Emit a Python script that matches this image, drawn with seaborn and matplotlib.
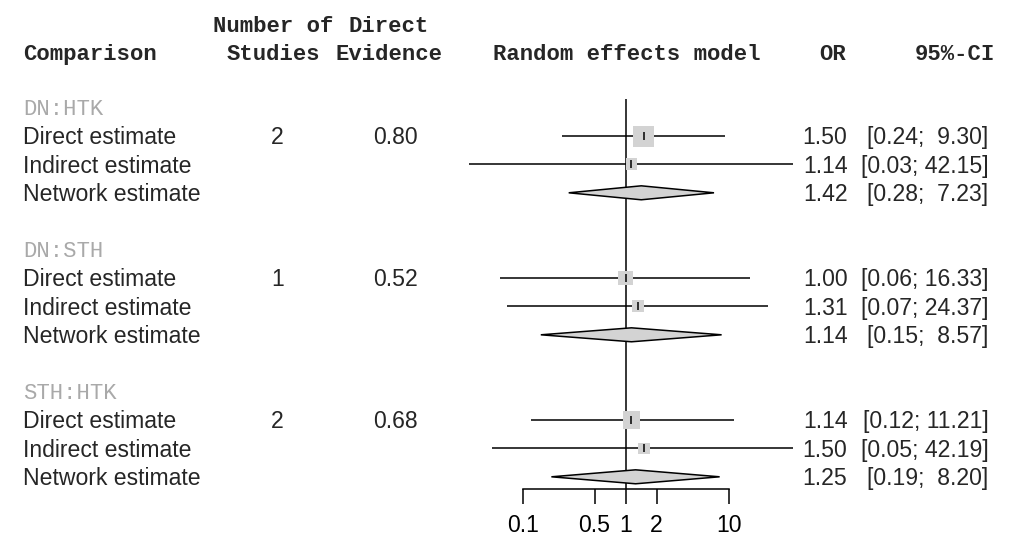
import numpy as np
import pandas as pd
import matplotlib
matplotlib.use("Agg")
import matplotlib.pyplot as plt
from matplotlib.patches import Polygon
import seaborn as sns

# ---------------- data ----------------
comparisons = ["DN:HTK", "DN:STH", "STH:HTK"]
estimate_labels = ["Direct estimate", "Indirect estimate", "Network estimate"]
n_studies = [2, 1, 2]
direct_evidence = [0.80, 0.52, 0.68]

or_direct = [1.50, 1.00, 1.14]
lo_direct = [0.24, 0.06, 0.12]
hi_direct = [9.30, 16.33, 11.21]

or_indirect = [1.14, 1.31, 1.50]
lo_indirect = [0.03, 0.07, 0.05]
hi_indirect = [42.15, 24.37, 42.19]

or_network = [1.42, 1.14, 1.25]
lo_network = [0.28, 0.15, 0.19]
hi_network = [7.23, 8.57, 8.20]

weight_direct = [1.00, 0.46, 0.68]
weight_indirect = [0.32, 0.32, 0.31]

tick_values = [0.1, 0.5, 1, 2, 10]
tick_labels = ["0.1", "0.5", "1", "2", "10"]

header_top = ["Number of", "Direct"]
header_bottom = ["Comparison", "Studies", "Evidence", "Random effects model", "OR", "95%-CI"]

# ---------------- styling ----------------
sns.set_theme(style="white")
plt.rcParams["font.family"] = ["Liberation Sans", "DejaVu Sans"]
HEAD_FONT = dict(family=["Liberation Mono", "DejaVu Sans Mono"], weight="bold", size=16)
GROUP_FONT = dict(family=["Liberation Mono", "DejaVu Sans Mono"], weight="normal", size=16)
BODY_SIZE = 16.6
LW = 1.1
GREY_BOX = "#d3d3d3"
GROUP_COL = "#a9a9a9"

W, H = 1009, 541
fig = plt.figure(figsize=(W / 100, H / 100), dpi=100)
fig.patch.set_facecolor("white")

row0_px, row_h = 22.4, 28.4
ylim = ((H - row0_px) / row_h, -row0_px / row_h)

# text layer (pixel x, row y)
tax = fig.add_axes([0, 0, 1, 1])
tax.set_xlim(0, W)
tax.set_ylim(*ylim)
tax.axis("off")

# forest layer (log x)
x_lo_px, px_per_dec = 625.6 - 102.9, 102.9
fax = fig.add_axes([x_lo_px / W, 0, 2 * px_per_dec / W, 1])
fax.set_facecolor("none")
fax.set_xscale("log")
fax.set_xlim(0.1, 10)
fax.set_ylim(*ylim)

# ---------------- rows ----------------
records = []
for g, comp in enumerate(comparisons):
    base = 3 + 5 * g
    records.append(dict(row=base + 1, kind="direct", est=or_direct[g], lo=lo_direct[g],
                        hi=hi_direct[g], w=weight_direct[g], comp=comp))
    records.append(dict(row=base + 2, kind="indirect", est=or_indirect[g], lo=lo_indirect[g],
                        hi=hi_indirect[g], w=weight_indirect[g], comp=comp))
    records.append(dict(row=base + 3, kind="network", est=or_network[g], lo=lo_network[g],
                        hi=hi_network[g], w=np.nan, comp=comp))
df = pd.DataFrame(records)
study = df[df.kind != "network"].reset_index(drop=True)
net = df[df.kind == "network"].reset_index(drop=True)

# reference line at OR = 1
axis_row = 16.44
fax.vlines(1, 2.7, axis_row, color="black", lw=LW, zorder=1, clip_on=False)

# CI lines
fax.hlines(study.row, study.lo, study.hi, color="black", lw=LW, zorder=2, clip_on=False)

# weighted squares
box_side_pt = 21 * 0.72
sns.scatterplot(data=study, x="est", y="row", size="w", sizes=(0, box_side_pt ** 2),
                size_norm=(0, 1), marker="s", color=GREY_BOX, linewidth=0,
                legend=False, ax=fax, zorder=3, clip_on=False)
# point estimate tick
sns.scatterplot(data=study, x="est", y="row", marker="|", s=(8 * 0.72) ** 2,
                color="black", linewidth=1.1, legend=False, ax=fax, zorder=4, clip_on=False)

# diamonds
half_h = 0.246
for _, r in net.iterrows():
    poly = Polygon([(r.lo, r.row), (r.est, r.row - half_h), (r.hi, r.row), (r.est, r.row + half_h)],
                   closed=True, facecolor=GREY_BOX, edgecolor="black", lw=LW, zorder=3,
                   clip_on=False)
    fax.add_patch(poly)

# axis
for side in ["left", "top", "right"]:
    fax.spines[side].set_visible(False)
fax.spines["bottom"].set_position(("data", axis_row))
fax.spines["bottom"].set_bounds(0.1, 10)
fax.spines["bottom"].set_linewidth(LW)
fax.spines["bottom"].set_color("black")
fax.set_xticks(tick_values)
fax.set_xticklabels(tick_labels)
fax.xaxis.set_minor_locator(matplotlib.ticker.NullLocator())
fax.tick_params(axis="x", direction="out", length=10.6, width=LW, pad=7.5,
                labelsize=BODY_SIZE, color="black", labelcolor="black", bottom=True)
fax.set_yticks([])
fax.set_xlabel("")
fax.set_ylabel("")
fax.grid(False)

# ---------------- text ----------------
hb1, hb2 = 0.33, 1.32
tax.text(273, hb1, header_top[0], ha="center", va="baseline", **HEAD_FONT)
tax.text(389, hb1, header_top[1], ha="center", va="baseline", **HEAD_FONT)
tax.text(23, hb2, header_bottom[0], ha="left", va="baseline", **HEAD_FONT)
tax.text(273, hb2, header_bottom[1], ha="center", va="baseline", **HEAD_FONT)
tax.text(389, hb2, header_bottom[2], ha="center", va="baseline", **HEAD_FONT)
tax.text(627, hb2, header_bottom[3], ha="center", va="baseline", **HEAD_FONT)
tax.text(846, hb2, header_bottom[4], ha="right", va="baseline", **HEAD_FONT)
tax.text(995, hb2, header_bottom[5], ha="right", va="baseline", **HEAD_FONT)

body_off = 0.29
for g, comp in enumerate(comparisons):
    base = 3 + 5 * g
    tax.text(23, base + 0.26, comp, ha="left", va="baseline", color=GROUP_COL, **GROUP_FONT)
    tax.text(277.5, base + 1 + body_off, f"{n_studies[g]}", ha="center", va="baseline",
             size=BODY_SIZE)
    tax.text(395, base + 1 + body_off, f"{direct_evidence[g]:.2f}", ha="center",
             va="baseline", size=BODY_SIZE)
    ests = [or_direct[g], or_indirect[g], or_network[g]]
    los = [lo_direct[g], lo_indirect[g], lo_network[g]]
    his = [hi_direct[g], hi_indirect[g], hi_network[g]]
    for k, lab in enumerate(estimate_labels):
        y = base + 1 + k + body_off
        tax.text(23, y, lab, ha="left", va="baseline", size=BODY_SIZE)
        tax.text(847.5, y, f"{ests[k]:.2f}", ha="right", va="baseline", size=BODY_SIZE)
        hi_s = f"{his[k]:.2f}"
        hi_s = (" " if len(hi_s) < 5 else "") + hi_s
        tax.text(988.3, y, f"[{los[k]:.2f}; {hi_s}]", ha="right", va="baseline",
                 size=BODY_SIZE)

fig.savefig("out.png", dpi=100, facecolor="white")
